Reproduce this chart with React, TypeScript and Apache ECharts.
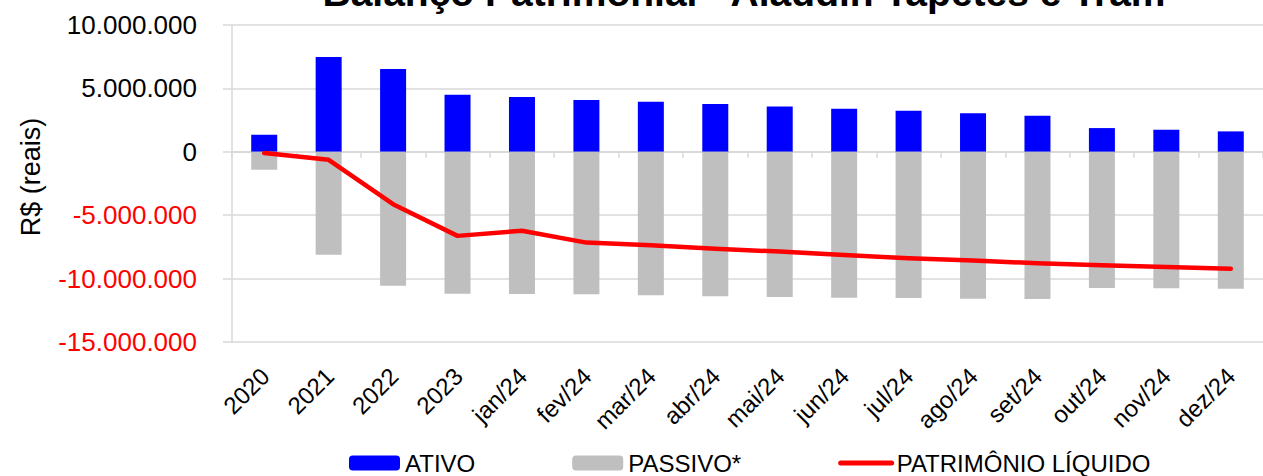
import React, { useEffect, useRef } from "react";
import * as echarts from "echarts";

const categories = ["2020", "2021", "2022", "2023", "jan/24", "fev/24", "mar/24", "abr/24", "mai/24", "jun/24", "jul/24", "ago/24", "set/24", "out/24", "nov/24", "dez/24"];
const ativo = [1350000, 7480000, 6530000, 4500000, 4320000, 4080000, 3950000, 3770000, 3580000, 3400000, 3240000, 3050000, 2840000, 1870000, 1740000, 1610000];
const passivo = [-1420000, -8110000, -10560000, -11190000, -11220000, -11230000, -11320000, -11400000, -11450000, -11510000, -11530000, -11590000, -11610000, -10740000, -10770000, -10800000];
const patrimonio = [-100000, -630000, -4130000, -6630000, -6220000, -7160000, -7370000, -7640000, -7870000, -8140000, -8400000, -8580000, -8790000, -8950000, -9080000, -9220000];
const seriesNames = ["ATIVO", "PASSIVO*", "PATRIMÔNIO LÍQUIDO"];
const titleText = "Balanço Patrimonial - Aladdin Tapetes e Tram";
const yAxisTitle = "R$ (reais)";
const yMin = -15000000;
const yMax = 10000000;
const yStep = 5000000;

const FONT = "'Liberation Sans', Arial, sans-serif";
const GRID = "#D9D9D9";

function fmt(v: number): string {
  const s = String(Math.abs(Math.round(v))).replace(/\B(?=(\d{3})+(?!\d))/g, ".");
  return v < 0 ? "-" + s : s;
}

export default function App() {
  const ref = useRef<HTMLDivElement>(null);
  useEffect(() => {
    document.body.style.margin = "0";
    document.body.style.overflow = "hidden";
    const chart = echarts.init(ref.current!, null, { renderer: "svg" });
    chart.setOption({
      animation: false,
      backgroundColor: "#ffffff",
      textStyle: { fontFamily: FONT },
      grid: [
        { left: 232, right: -9, top: 25, bottom: 134 },
        { left: 233, right: -10, top: 25, bottom: 134 },
      ],
      legend: {
        left: 349,
        top: 451,
        padding: 0,
        itemWidth: 51,
        itemHeight: 15,
        itemGap: 97,
        textStyle: { fontSize: 24, color: "#000", fontFamily: FONT },
        data: [
          { name: seriesNames[0] },
          { name: seriesNames[1] },
          {
            name: seriesNames[2],
            itemStyle: { opacity: 0 },
            lineStyle: { color: "#FF0000", width: 5, cap: "round" },
          },
        ],
      },
      xAxis: [
        {
          type: "category",
          gridIndex: 0,
          data: categories,
          position: "bottom",
          axisLine: { onZero: true, lineStyle: { color: GRID, width: 2 } },
          axisTick: { show: true, length: 6, lineStyle: { color: GRID, width: 1.5 } },
          axisLabel: { show: false },
          splitLine: { show: false },
        },
        {
          type: "category",
          gridIndex: 1,
          data: categories,
          position: "bottom",
          axisLine: { show: false, onZero: false },
          axisTick: { show: false },
          axisLabel: { rotate: 45, margin: 30, fontSize: 24, color: "#000", fontFamily: FONT, interval: 0 },
          splitLine: { show: false },
        },
      ],
      yAxis: [
        {
          type: "value",
          gridIndex: 0,
          min: yMin,
          max: yMax,
          interval: yStep,
          axisLine: { show: true, lineStyle: { color: GRID, width: 1.5 } },
          axisTick: { show: true, length: 9, lineStyle: { color: GRID, width: 1.5 } },
          splitLine: { show: true, lineStyle: { color: GRID, width: 1.5 } },
          axisLabel: {
            margin: 35,
            fontSize: 26,
            fontFamily: FONT,
            formatter: (v: number) => fmt(v),
            color: (v: any) => (Number(v) < 0 ? "#FF0000" : "#000000"),
          },
        },
        { type: "value", gridIndex: 1, min: yMin, max: yMax, interval: yStep, show: false },
      ],
      graphic: [
        {
          type: "text",
          x: 744,
          y: 12,
          style: {
            text: titleText,
            fontSize: 39,
            fontWeight: "bold",
            fontFamily: FONT,
            fill: "#000",
            textAlign: "center",
            textVerticalAlign: "bottom",
          },
        },
        {
          type: "text",
          x: 31,
          y: 177,
          rotation: Math.PI / 2,
          style: {
            text: yAxisTitle,
            fontSize: 27,
            fontFamily: FONT,
            fill: "#000",
            textAlign: "center",
            textVerticalAlign: "middle",
          },
        },
      ],
      series: [
        {
          name: seriesNames[0],
          type: "bar",
          xAxisIndex: 0,
          yAxisIndex: 0,
          stack: "bp",
          barWidth: 26,
          itemStyle: { color: "#0000FF" },
          data: ativo,
        },
        {
          name: seriesNames[1],
          type: "bar",
          xAxisIndex: 0,
          yAxisIndex: 0,
          stack: "bp",
          barWidth: 26,
          itemStyle: { color: "#BFBFBF" },
          data: passivo,
        },
        {
          name: seriesNames[2],
          type: "line",
          xAxisIndex: 0,
          yAxisIndex: 0,
          symbol: "none",
          z: 5,
          itemStyle: { color: "#FF0000" },
          lineStyle: { color: "#FF0000", width: 4.5, cap: "round", join: "round" },
          data: patrimonio,
        },
      ],
    });
    return () => chart.dispose();
  }, []);
  return <div ref={ref} style={{ width: 1263, height: 476 }} />;
}
